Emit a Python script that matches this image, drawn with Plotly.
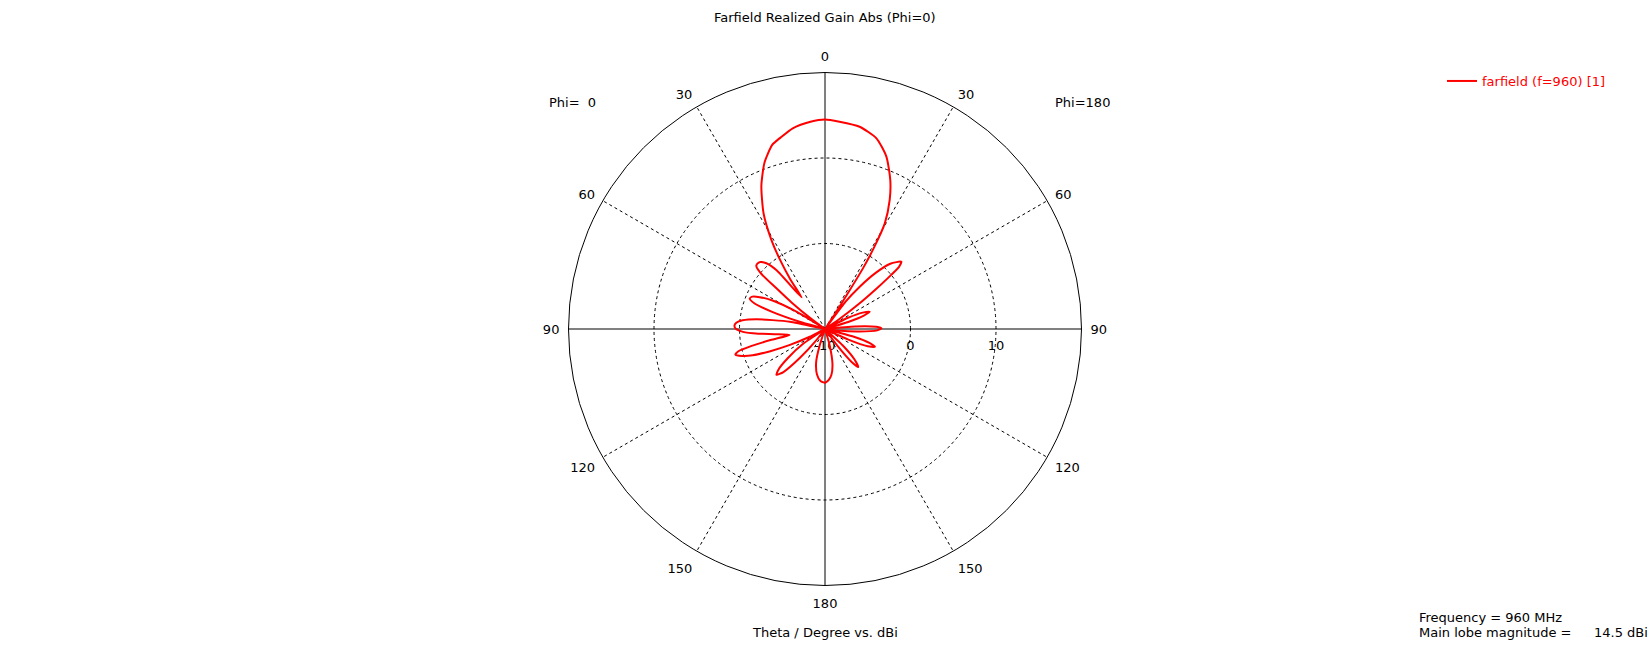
import plotly.graph_objects as go

# ---------------- data ----------------
title_text = "Farfield Realized Gain Abs (Phi=0)"
axis_caption = "Theta / Degree vs. dBi"
series_name = "farfield (f=960) [1]"
frequency_mhz = 960
phi_left_label = "Phi=\u00a0\u00a00"
phi_right_label = "Phi=180"

# Phi = 0 cut (left half), theta in degrees, realized gain in dBi
theta_phi0 = [0, 4, 9, 13, 16, 20, 24, 28, 31, 33, 35, 36.5,
              39.5, 41.7, 44, 46, 47.5, 49, 50, 51.5, 53.5, 55,
              57, 58.8, 61.4, 64, 66, 68, 70, 72, 74, 76,
              78.3, 81.9, 84, 86, 88, 90, 92, 94, 96, 99.6,
              101.5, 103, 104.5, 106, 108, 110, 112, 114.4, 117, 119,
              124, 128, 131, 133.4, 136, 139, 142, 145,
              158, 162, 165, 170, 175, 180]
gain_phi0 = [14.5, 14.3, 13.8, 13.0, 12.4, 10.7, 8.3, 5.3, 2.2, -0.3, -3.0, -5.4,
             -1.1, 0.3, 0.9, 1.0, 0.9, 0.0, -2.5, -5.0, -8.0, -10,
             -10, -6.1, -3.1, -1.5, -0.7, -0.5, -1.2, -3.5, -7.0, -10,
             -5.8, -1.9, -0.3, 0.4, 0.6, 0.4, -0.4, -2.2, -4.2, -5.8,
             -3.5, -1.2, 0.5, 0.9, 0.2, -1.0, -3.0, -5.5, -8.0, -10,
             -7.0, -4.5, -2.8, -2.2, -3.0, -5.5, -8.0, -10,
             -10, -8.0, -6.0, -4.6, -3.9, -3.7]

# Phi = 180 cut (right half)
theta_phi180 = [0, 4, 9.7, 15.1, 19.6, 23.7, 26.6, 29.5, 31, 32, 32.5, 33.5, 34.5,
                37, 39.4, 42, 45, 48.6, 50, 51, 52, 53.5, 55.5, 57,
                60, 64, 66.5, 68.8, 71, 73, 76,
                82, 85, 87.5, 89.3, 91.5, 94, 97, 99,
                102, 105, 107.5, 109.6, 112, 114.5, 117,
                130, 133, 136, 138.8, 141, 143.5, 146,
                160, 164, 168, 172, 176, 180]
gain_phi180 = [14.5, 14.3, 14.0, 13.1, 11.4, 9.0, 6.9, 4.2, 1.2, -1.5, -4.6, -8.0, -10,
               -6.0, -3.6, -1.2, 0.8, 1.9, 1.3, -0.5, -2.5, -5.0, -8.0, -10,
               -10, -7.0, -5.2, -4.4, -5.2, -7.0, -10,
               -10, -6.5, -4.0, -3.4, -3.9, -6.0, -8.5, -10,
               -10, -6.5, -4.5, -3.8, -4.6, -7.0, -10,
               -10, -7.0, -5.0, -4.1, -5.0, -7.5, -10,
               -10, -8.0, -5.8, -4.6, -4.0, -3.7]

radial_range = [-10, 20]
radial_ticks = [-10, 0, 10]
angular_ticks = list(range(0, 360, 30))
angular_labels = ["0", "30", "60", "90", "120", "150", "180",
                  "150", "120", "90", "60", "30"]

# ---------------- figure ----------------
FONT = "DejaVu Sans"
FS = 13
W, H = 1650, 658

# left half: theta directly (counterclockwise from top); right half mirrored
plot_theta = list(theta_phi0) + [360 - t for t in reversed(theta_phi180)]
plot_r = list(gain_phi0) + list(reversed(gain_phi180))

r_lo, r_hi = radial_range

# grid spokes: dashed for oblique angles, solid for the 0/90/180/270 cross
dash_r, dash_t, solid_r, solid_t = [], [], [], []
for a in angular_ticks:
    if a % 90 == 0:
        solid_r += [r_lo, r_hi, None]
        solid_t += [a, a, None]
    else:
        dash_r += [r_lo, r_hi, None]
        dash_t += [a, a, None]

fig = go.Figure()
fig.add_trace(go.Scatterpolar(r=dash_r, theta=dash_t, mode="lines",
                              line=dict(color="black", width=1, dash="3px,3px"),
                              showlegend=False, hoverinfo="skip"))
fig.add_trace(go.Scatterpolar(r=solid_r, theta=solid_t, mode="lines",
                              line=dict(color="black", width=1),
                              showlegend=False, hoverinfo="skip"))
fig.add_trace(go.Scatterpolar(r=plot_r, theta=plot_theta, mode="lines",
                              name=series_name,
                              line=dict(color="#ff0000", width=2,
                                        shape="spline", smoothing=0.6)))

cx, cy, R = 825, 329, 256.5
main_lobe = max(gain_phi0 + gain_phi180)

fig.update_layout(
    width=W, height=H, autosize=False,
    margin=dict(l=0, r=0, t=0, b=0),
    paper_bgcolor="white", plot_bgcolor="white",
    font=dict(family=FONT, size=FS, color="black"),
    polar=dict(
        domain=dict(x=[(cx - R) / W, (cx + R) / W],
                    y=[(H - cy - R) / H, (H - cy + R) / H]),
        bgcolor="white",
        radialaxis=dict(range=radial_range, tickvals=radial_ticks,
                        ticktext=[str(v) for v in radial_ticks],
                        angle=0, side="clockwise", tickangle=0,
                        showline=False, ticks="outside", ticklen=5,
                        tickcolor="rgba(0,0,0,0)",
                        gridcolor="black", griddash="3px,3px", gridwidth=1,
                        tickfont=dict(family=FONT, size=FS, color="black"),
                        layer="below traces"),
        angularaxis=dict(rotation=90, direction="counterclockwise",
                         tickvals=angular_ticks, ticktext=angular_labels,
                         showline=True, linecolor="black", linewidth=1,
                         ticks="outside", ticklen=6, tickcolor="rgba(0,0,0,0)",
                         showgrid=False,
                         tickfont=dict(family=FONT, size=FS, color="black"),
                         layer="below traces"),
    ),
    showlegend=True,
    legend=dict(x=1442 / W, y=1 - 66 / H, xanchor="left", yanchor="top",
                bgcolor="rgba(0,0,0,0)",
                font=dict(family=FONT, size=FS, color="#ff0000")),
)

def ann(text, x, y, xanchor="center", color="black"):
    fig.add_annotation(text=text, x=x / W, y=1 - y / H, xref="paper", yref="paper",
                       xanchor=xanchor, yanchor="middle", showarrow=False,
                       font=dict(family=FONT, size=FS, color=color))

ann(title_text, 825, 18)
ann(axis_caption, 825, 632)
ann(phi_left_label, 572, 102)
ann(phi_right_label, 1082, 102)
ann(f"Frequency = {frequency_mhz} MHz", 1417, 617, xanchor="left")
ann("Main lobe magnitude =", 1417, 632, xanchor="left")
ann(f"{main_lobe:.1f} dBi", 1592, 632, xanchor="left")

fig.write_html("out.html", config={"displayModeBar": False},
               post_script="document.body.style.margin='0';")
